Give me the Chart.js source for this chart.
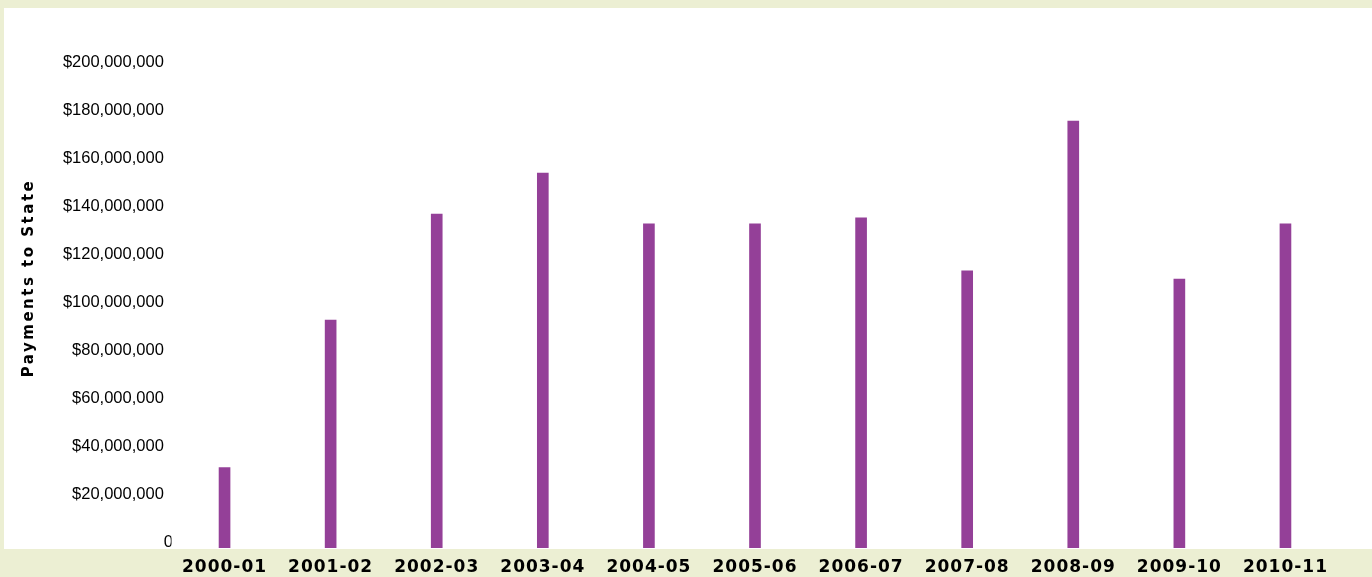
<!DOCTYPE html>
<html>
<head>
<meta charset="utf-8">
<script src="https://cdn.jsdelivr.net/npm/chart.js@4/dist/chart.umd.min.js"></script>
<style>
  html, body { margin: 0; padding: 0; background: #ECEFD3; }
  #wrap { width: 1372px; height: 577px; position: relative; }
</style>
</head>
<body>
<div id="wrap"><canvas id="chart"></canvas></div>
<script>
// Fiscal years and payments made to the state in each
const categories = ['2000-01', '2001-02', '2002-03', '2003-04', '2004-05', '2005-06',
                    '2006-07', '2007-08', '2008-09', '2009-10', '2010-11'];
const payments = [33500000, 95100000, 139300000, 156400000, 135200000, 135200000,
                  137700000, 115600000, 178100000, 112200000, 135200000];

// Value axis range and tick step
const yMin = 0;
const yMax = 200000000;
const yStep = 20000000;

const axisTitle = 'Payments to State';

const PANEL = '#FFFFFF';
const BORDER = '#ECEFD3';
const BAR = '#944098';

// Draws the white panel behind the plot, leaving the beige frame visible
const panel = {
  id: 'panel',
  beforeDraw(chart) {
    const { ctx, width, chartArea } = chart;
    ctx.save();
    ctx.fillStyle = BORDER;
    ctx.fillRect(0, 0, width, chart.height);
    ctx.fillStyle = PANEL;
    ctx.fillRect(4, 8, width - 4, chartArea.bottom + 1 - 8);
    ctx.restore();
  }
};

// Letter spacing for the category labels and the axis title
function wrapDraw(scale, method, spacing, shiftY) {
  const flag = '_spaced_' + method;
  if (!scale || scale[flag]) return;
  const orig = scale[method];
  scale[method] = function (...args) {
    const ctx = this.ctx;
    ctx.save();
    ctx.letterSpacing = spacing;
    if (shiftY) ctx.translate(0, shiftY(this));
    orig.apply(this, args);
    ctx.restore();
  };
  scale[flag] = true;
}
const spacedText = {
  id: 'spacedText',
  beforeDraw(chart) {
    wrapDraw(chart.scales.x, 'drawLabels', '1px');
    // axis title sits centred on the white panel rather than on the plot
    wrapDraw(chart.scales.y, 'drawTitle', '2.5px',
      s => (8 + s.bottom) / 2 - (s.top + s.bottom) / 2);
  }
};

// Currency labels carry a trailing figure space; the zero label does not
const formatMoney = v => v === 0 ? '0' : '$' + Number(v).toLocaleString('en-US') + '\u2007';

new Chart(document.getElementById('chart'), {
  type: 'bar',
  data: {
    labels: categories,
    datasets: [{
      data: payments,
      backgroundColor: BAR,
      borderWidth: 0,
      barThickness: 11
    }]
  },
  options: {
    responsive: true,
    maintainAspectRatio: false,
    animation: false,
    layout: { padding: { top: 68.6, right: 33.5, bottom: 0, left: 0 } },
    plugins: {
      legend: { display: false },
      tooltip: { enabled: false }
    },
    scales: {
      x: {
        offset: true,
        grid: { display: false, drawTicks: false },
        border: { display: false },
        ticks: {
          color: '#000000',
          padding: 9,
          maxRotation: 0,
          autoSkip: false,
          font: { family: 'DejaVu Sans', weight: 'bold', size: 17 }
        },
        afterFit(scale) { scale.height = 29; }
      },
      y: {
        min: yMin,
        max: yMax,
        grid: { display: false, drawTicks: false },
        border: { display: false },
        ticks: {
          stepSize: yStep,
          color: '#000000',
          padding: -1.5,
          labelOffset: -6,
          font: { family: 'Liberation Sans', size: 16.5 },
          callback: formatMoney
        },
        title: {
          display: true,
          text: axisTitle,
          color: '#000000',
          padding: { top: 20, bottom: 0 },
          font: { family: 'DejaVu Sans', weight: 'bold', size: 15 }
        },
        afterFit(scale) { scale.width = 171.5; }
      }
    }
  },
  plugins: [panel, spacedText]
});
</script>
</body>
</html>
